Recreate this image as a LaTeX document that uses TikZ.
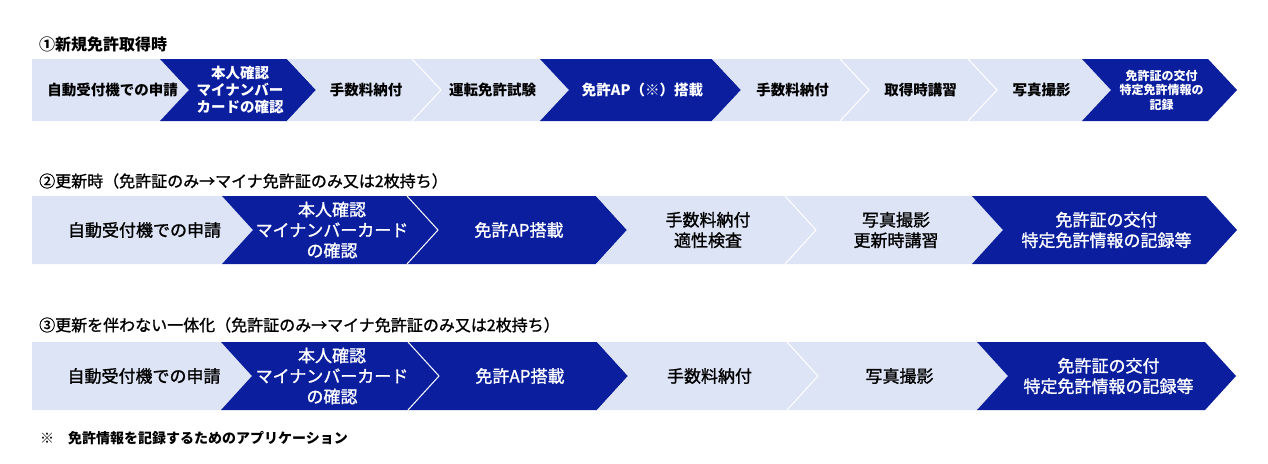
\documentclass[tikz,border=0pt]{standalone}
\usepackage{fontspec}
\setmainfont{Noto Sans CJK JP}
\newfontfamily\jpmid{Noto Sans CJK JP}[FakeBold=1.2]
\usepackage{xcolor}
\definecolor{stepdark}{HTML}{0A1E9E}
\definecolor{steplight}{HTML}{DDE4F5}

% one chevron of a row: style, name, left x, right x, notch depth, text
\newcommand{\chev}[6]{%
  \fill[#1chev] (#3,\rtop) -- (#4,\rtop) -- ({#4+\tip},\rmid) -- (#4,\rbot)
    -- (#3,\rbot) -- ({#3+#5},\rmid) -- cycle;
  \node[#1lbl] (#2) at ({(#3+#4+\tip)/2+2},\rmid) {#6};}
% white line between two chevrons of the same colour
\newcommand{\stepsep}[1]{\draw[sepline] (#1,\rtop) -- ({#1+\tip},\rmid) -- (#1,\rbot);}
\newcommand{\setrow}[5]{\def\rtop{#1}\def\rbot{#2}\def\rmid{#3}\def\tip{#4}\def\rowfont{#5}}

\begin{document}
\begin{tikzpicture}[x=1pt, y=-1pt,
    lightchev/.style={fill=steplight},
    darkchev/.style={fill=stepdark},
    smalldarkchev/.style={darkchev},
    lbl/.style={inner sep=0pt, align=center, font=\rowfont},
    lightlbl/.style={lbl, text=black},
    darklbl/.style={lbl, text=white},
    smalldarklbl/.style={darklbl, font=\fontsize{12}{14.5}\selectfont\bfseries},
    sepline/.style={draw=white, line width=1pt},
    title/.style={anchor=west, inner sep=0pt, font=\fontsize{16}{18}\selectfont\bfseries}
]
\useasboundingbox (0,0) rectangle (1268,463);

% (1) new licence
\node[title] (t1) at (39,44) {①新規免許取得時};
\setrow{59}{121}{90}{29}{\fontsize{14.5}{17}\selectfont\bfseries}
\chev{light}{a1}{32}{160}{0}{自動受付機での申請}
\chev{dark}{a2}{160}{287}{29}{本人確認\\マイナンバー\\カードの確認}
\chev{light}{a3}{287}{412}{29}{手数料納付}
\chev{light}{a4}{412}{540}{29}{運転免許試験}
\chev{dark}{a5}{540}{712}{29}{免許AP（※）搭載}
\chev{light}{a6}{712}{840}{29}{手数料納付}
\chev{light}{a7}{840}{968}{29}{取得時講習}
\chev{light}{a8}{968}{1082}{29}{写真撮影}
\chev{smalldark}{a9}{1082}{1208}{29}{免許証の交付\\特定免許情報の\\記録}
\stepsep{412}
\stepsep{840}
\stepsep{968}

% (2) renewal
\node[title, font=\fontsize{16}{18}\selectfont\jpmid] (t2) at (39,181) {②更新時（免許証のみ→マイナ免許証のみ又は2枚持ち）};
\setrow{196}{264}{230}{31}{\fontsize{17}{20.5}\selectfont\jpmid}
\chev{light}{b1}{32}{222}{0}{自動受付機での申請}
\chev{dark}{b2}{222}{407}{31}{本人確認\\マイナンバーカード\\の確認}
\chev{dark}{b3}{407}{596}{31}{免許AP搭載}
\chev{light}{b4}{596}{785}{31}{手数料納付\\適性検査}
\chev{light}{b5}{785}{972}{31}{写真撮影\\更新時講習}
\chev{dark}{b6}{972}{1206}{31}{免許証の交付\\特定免許情報の記録等}
\stepsep{407}
\stepsep{785}

% (3) integration without renewal
\node[title, font=\fontsize{16}{18}\selectfont\jpmid] (t3) at (39,325) {③更新を伴わない一体化（免許証のみ→マイナ免許証のみ又は2枚持ち）};
\setrow{342}{410}{376}{31}{\fontsize{17}{20.5}\selectfont\jpmid}
\chev{light}{c1}{32}{221}{0}{自動受付機での申請}
\chev{dark}{c2}{221}{408}{31}{本人確認\\マイナンバーカード\\の確認}
\chev{dark}{c3}{408}{597}{31}{免許AP搭載}
\chev{light}{c4}{597}{787}{31}{手数料納付}
\chev{light}{c5}{787}{977}{31}{写真撮影}
\chev{dark}{c6}{977}{1205}{31}{免許証の交付\\特定免許情報の記録等}
\stepsep{408}
\stepsep{787}

\node[title, font=\fontsize{14}{16}\selectfont\bfseries] (note) at (40,438) {※　免許情報を記録するためのアプリケーション};
\end{tikzpicture}
\end{document}
